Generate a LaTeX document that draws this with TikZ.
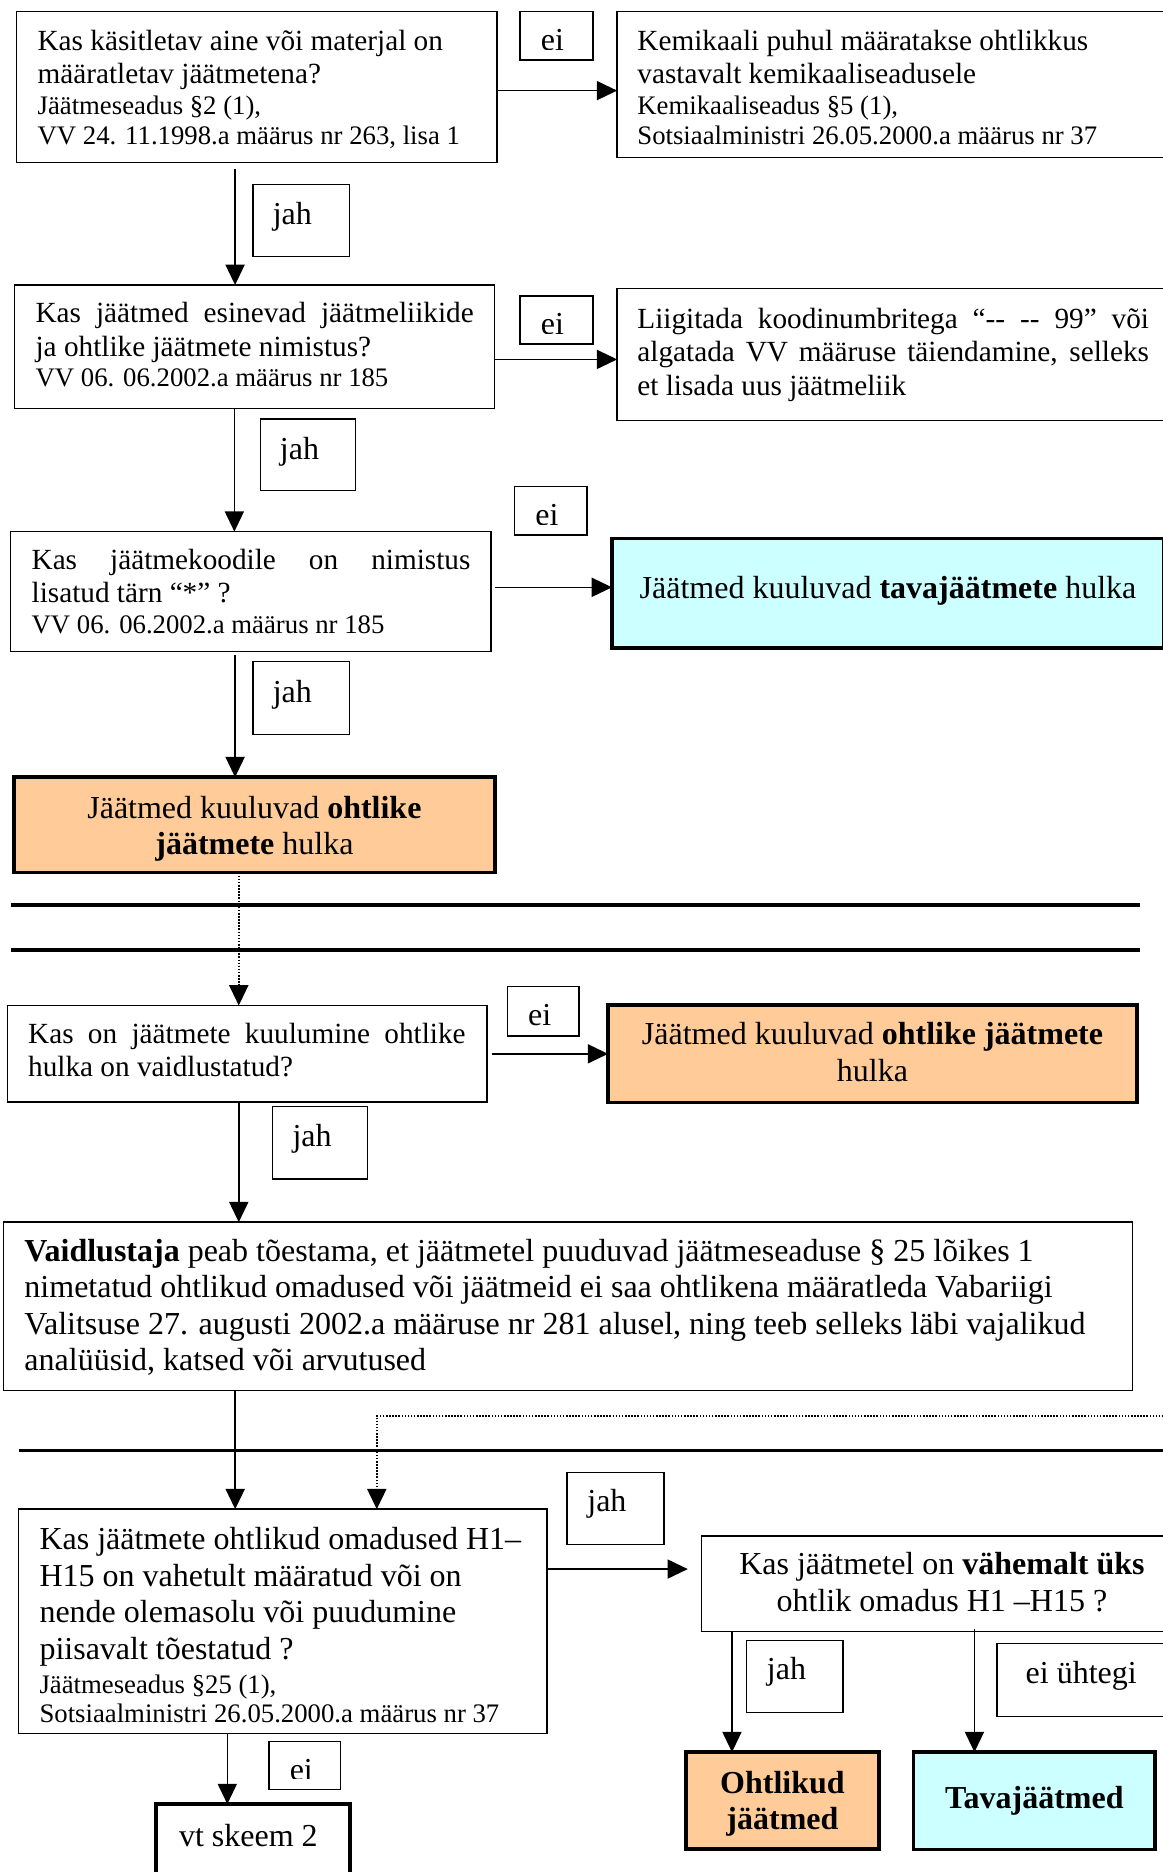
\documentclass[tikz,border=0pt]{standalone}
\usepackage{fontspec}
\setmainfont{Liberation Serif}
\usetikzlibrary{arrows.meta,calc,fit}
\definecolor{orng}{HTML}{FFCC99}
\definecolor{cyn}{HTML}{CCFFFF}
\newcommand\fsA{\fontsize{24.5}{28}\selectfont}
\newcommand\fsB{\fontsize{22.4}{25.7}\selectfont}
\newcommand\fsC{\fontsize{26.8}{30.5}\selectfont}
\newcommand\jline[1]{\makebox[\linewidth][s]{#1}}
\tikzset{
  bx/.style={draw, line width=1.2pt, fill=white, inner sep=0pt, outer sep=0pt},
  tbx/.style={draw, line width=3pt, inner sep=0pt, outer sep=0pt},
  lab/.style={draw, line width=1.1pt, fill=white, inner sep=0pt, outer sep=0pt},
  txt/.style={inner sep=0pt, outer sep=0pt, anchor=base west},
  ctxt/.style={inner sep=0pt, outer sep=0pt, anchor=base},
  ltxt/.style={inner sep=0pt, outer sep=0pt, anchor=base west, font=\fsC},
  arr/.style={line width=1.3pt, -{Triangle[length=17pt,width=16pt]}},
  darr/.style={line width=1.5pt, dash pattern=on 1.3pt off 1.3pt, -{Triangle[length=17pt,width=16pt]}},
  sepline/.style={line width=3pt}
}
\newcommand\mklab[8]{%
  \node[lab, fit={(#2,#3) (#4,#5)}] (#1) {};
  \begin{scope}
    \clip (#1.north west) rectangle ($(#1.south east)+(0,-9)$);
    \node[ltxt] (#1t) at ($(#1.north west)+(#6,#7)$) {#8};
  \end{scope}}
\begin{document}
\begin{tikzpicture}[x=1pt, y=-1pt]
\useasboundingbox (0,0) rectangle (974,1568);
\clip (0,0) rectangle (974,1568);
\fill[white] (0,0) rectangle (974,1568);

% separators
\draw[sepline] (9.2,758) -- (955,758);
\draw[sepline] (9.2,795.7) -- (955,795.7);
\draw[sepline] (15.6,1214.9) -- (990,1214.9);

% row 1
\node[bx, fit={(13.9,9.8) (416.2,136)}] (A) {};
\node[bx, fit={(516.9,9.8) (995,131.8)}] (K) {};
\node[txt] (At) at (31.5,41.9) {\parbox[t]{380pt}{\fsA Kas käsitletav aine või materjal on\\ määratletav jäätmetena?\par\fsB Jäätmeseadus §2 (1),\\ VV 24. 11.1998.a määrus nr 263, lisa 1}};
\node[txt] (Kt) at (533.9,41.9) {\parbox[t]{436pt}{\fsA Kemikaali puhul määratakse ohtlikkus\\ vastavalt kemikaaliseadusele\par\fsB Kemikaaliseadus §5 (1),\\ Sotsiaalministri 26.05.2000.a määrus nr 37}};

% row 2
\node[bx, fit={(12.3,238.7) (414,342)}] (B) {};
\node[bx, fit={(516.9,241.5) (980,352)}] (L) {};
\node[txt] (Bt) at (29.8,270.2) {\parbox[t]{367pt}{\fsA\jline{Kas jäätmed esinevad jäätmeliikide}\\ ja ohtlike jäätmete nimistus?\par\fsB VV 06. 06.2002.a määrus nr 185}};
\node[txt] (Lt) at (533.9,275) {\parbox[t]{428.5pt}{\fsA\jline{Liigitada koodinumbritega “-\kern0pt- -\kern0pt- 99” või}\\ \jline{algatada VV määruse täiendamine, selleks}\\ et lisada uus jäätmeliik}};

% row 3
\node[bx, fit={(8.9,445.3) (411.3,545.8)}] (C) {};
\node[tbx, fill=cyn, fit={(512.6,450.9) (975,543)}] (T1) {};
\node[txt] (Ct) at (26.5,476.8) {\parbox[t]{367.5pt}{\fsA\jline{Kas jäätmekoodile on nimistus}\\ lisatud tärn “*” ?\par\fsB VV 06. 06.2002.a määrus nr 185}};
\node[ctxt] (T1t) at (743.8,501.1) {\fsC Jäätmed kuuluvad \textbf{tavajäätmete} hulka};

% row 4
\node[tbx, fill=orng, fit={(11.6,651) (414.6,730.9)}] (D) {};
\node[ctxt] (Dt) at (213.1,685.4) {\parbox[t]{380pt}{\centering\fsC Jäätmed kuuluvad \textbf{ohtlike}\\ \textbf{jäätmete} hulka}};

% row 5
\node[bx, fit={(6.2,842.2) (408,923.2)}] (E) {};
\node[tbx, fill=orng, fit={(509.3,841.7) (952.2,923.5)}] (F) {};
\node[txt] (Et) at (23.6,873.8) {\parbox[t]{366.4pt}{\fsA\jline{Kas on jäätmete kuulumine ohtlike}\\ hulka on vaidlustatud?}};
\node[ctxt] (Ft) at (730.8,875.2) {\parbox[t]{430pt}{\centering\fsC Jäätmed kuuluvad \textbf{ohtlike jäätmete}\\ hulka}};

% row 6
\node[bx, fit={(3.1,1023.7) (948.4,1164.7)}] (G) {};
\node[txt] (Gt) at (20.5,1056.7) {\parbox[t]{920pt}{\fsC\textbf{Vaidlustaja} peab tõestama, et jäätmetel puuduvad jäätmeseaduse § 25 lõikes 1\\ nimetatud ohtlikud omadused või jäätmeid ei saa ohtlikena määratleda Vabariigi\\ Valitsuse 27. augusti 2002.a määruse nr 281 alusel, ning teeb selleks läbi vajalikud\\ analüüsid, katsed või arvutused}};

% row 7
\node[bx, fit={(15.6,1264.1) (458,1452.2)}] (H) {};
\node[bx, fit={(587.8,1286.4) (990,1366.5)}] (I) {};
\node[txt] (Ht) at (33.1,1298.1) {\parbox[t]{420pt}{\fsC Kas jäätmete ohtlikud omadused H1–\\ H15 on vahetult määratud või on\\ nende olemasolu või puudumine\\ piisavalt tõestatud ?\par\vspace{4.8pt}\fontsize{22.4}{24}\selectfont Jäätmeseadus §25 (1),\\ Sotsiaalministri 26.05.2000.a määrus nr 37}};
\node[ctxt] (It) at (789,1319) {\parbox[t]{380pt}{\centering\fsC Kas jäätmetel on \textbf{vähemalt üks}\\ ohtlik omadus H1 –H15 ?}};

% row 8
\node[tbx, fill=white, fit={(130.8,1511.1) (293,1590)}] (V) {};
\node[txt] (Vt) at (150,1546.6) {\fsC vt skeem 2};
\node[tbx, fill=orng, fit={(574.5,1467.6) (736.3,1548.8)}] (O) {};
\node[ctxt] (Ot) at (655.4,1501.9) {\parbox[t]{150pt}{\centering\fsC\bfseries Ohtlikud\\ jäätmed}};
\node[tbx, fill=cyn, fit={(765.2,1467.6) (967.6,1549)}] (T2) {};
\node[ctxt] (T2t) at (866.4,1514.5) {\fsC\bfseries Tavajäätmed};

% labels
\mklab{l1}{435.5}{9.8}{496.7}{50.3}{17.5}{32.5}{ei}
\mklab{l2}{212}{154.4}{293}{215}{16.5}{34}{jah}
\mklab{l3}{435.5}{247.9}{496.7}{288.1}{17.5}{32.5}{ei}
\mklab{l4}{218}{351}{298}{411}{16.5}{34}{jah}
\mklab{l5}{431}{407.6}{491.7}{448}{17.5}{32.5}{ei}
\mklab{l6}{212}{554}{293}{615}{16.5}{34}{jah}
\mklab{l7}{424.8}{826.3}{485}{867.7}{17.5}{32.5}{ei}
\mklab{l8}{228}{926.8}{308}{987.4}{17}{33.5}{jah}
\mklab{l9}{475}{1233.4}{556.2}{1293.9}{17}{33}{jah}
\mklab{l10}{225.2}{1458.7}{285.4}{1498.6}{17.5}{32.5}{ei}
\mklab{l11}{625.4}{1374}{706}{1434.4}{17}{32.5}{jah}
\mklab{l12}{835.1}{1376.8}{977}{1437.7}{24}{33}{ei ühtegi}

% connectors
\draw[arr] ($(A.east)+(0,3)$) coordinate (a1) -- (a1 -| K.west);
\draw[arr] ($(A.south west)+(183,5.5)$) coordinate (a2) -- (a2 |- B.north);
\draw[arr] ($(B.east)+(0,10.7)$) coordinate (a3) -- (a3 -| L.west);
\draw[arr] ($(B.south west)+(184,0)$) coordinate (a4) -- (a4 |- C.north);
\draw[arr] ($(C.east)+(3.6,-3.6)$) coordinate (a5) -- (a5 -| T1.west);
\draw[arr] ($(C.south west)+(188,2.8)$) coordinate (a6) -- (a6 |- D.north);
\draw[darr] ($(D.south west)+(188.4,0)$) coordinate (a7) -- (a7 |- E.north);
\draw[arr] ($(E.east)+(3.8,0)$) coordinate (a8) -- (a8 -| F.west);
\draw[arr] ($(E.south west)+(193.8,0)$) coordinate (a9) -- (a9 |- G.north);
\draw[arr] ($(G.south west)+(193.9,0)$) coordinate (a10) -- (a10 |- H.north);
\coordinate (dotin) at (985,1185.9);
\draw[darr] (dotin) -| ($(H.north west)+(300,0)$);
\draw[arr] ($(H.east)+(0,-43.9)$) coordinate (a12) -- ($(a12 -| I.west)+(-11.7,0)$);
\draw[arr] ($(H.south west)+(174.8,0)$) coordinate (a13) -- (a13 |- V.north);
\draw[arr] ($(I.south west)+(25.3,0)$) coordinate (a14) -- (a14 |- O.north);
\draw[arr] ($(I.south west)+(228.4,-2)$) coordinate (a15) -- (a15 |- T2.north);
\end{tikzpicture}
\end{document}
